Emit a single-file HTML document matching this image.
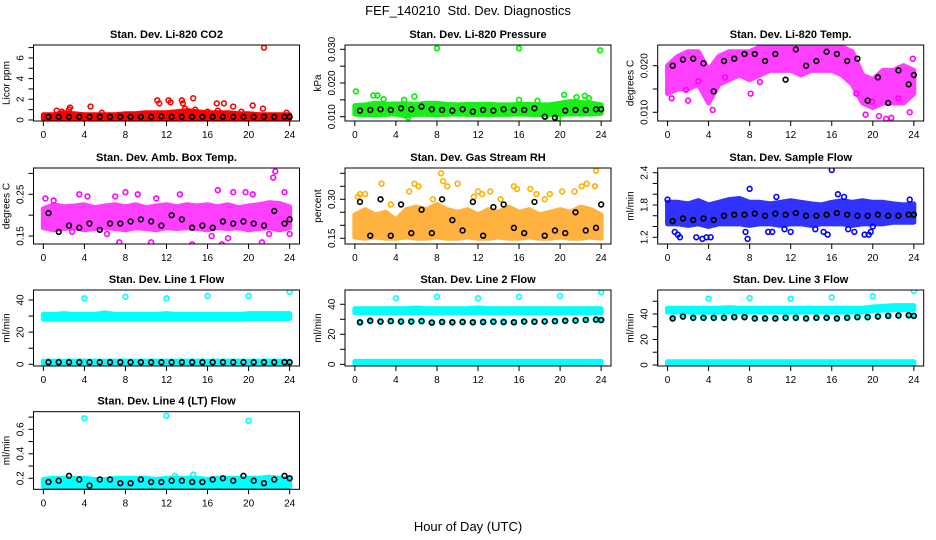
<!DOCTYPE html>
<html><head><meta charset="utf-8"><style>
body{margin:0;background:#fff}
svg{display:block;font-family:"Liberation Sans",sans-serif}
</style></head><body>
<svg id="c" width="936" height="540" viewBox="0 0 936 540">
<text x="468" y="15" font-size="13" text-anchor="middle" style="white-space:pre">FEF_140210  Std. Dev. Diagnostics</text>
<text x="468" y="531" font-size="13" text-anchor="middle">Hour of Day (UTC)</text>
</svg>
<script>
// shared hourly categories
const hours = [0,1,2,3,4,5,6,7,8,9,10,11,12,13,14,15,16,17,18,19,20,21,22,23,24];
const blackHours = [0.5,1.5,2.5,3.5,4.5,5.5,6.5,7.5,8.5,9.5,10.5,11.5,12.5,13.5,14.5,15.5,16.5,17.5,18.5,19.5,20.5,21.5,22.5,23.5,24];
const xTicks = [0,4,8,12,16,20,24];

// CO2
const co2Lo = [0.1,0.1,0.1,0.1,0.1,0.1,0.1,0.1,0.1,0.1,0.1,0.1,0.1,0.1,0.1,0.1,0.1,0.1,0.1,0.1,0.1,0.1,0.1,0.1,0.1];
const co2Hi = [0.5,0.5,0.7,0.6,0.5,0.5,0.5,0.5,0.6,0.6,0.7,0.7,0.7,0.8,0.9,0.8,0.7,0.7,0.7,0.6,0.6,0.5,0.5,0.5,0.5];
const co2OutT = [1.3,1.8,2.6,2.5,4.6,5.7,11.1,11.3,12.2,12.4,13.5,13.6,13.8,14.6,14.8,16.0,16.9,17.0,17.6,18.5,19.3,20.4,21.4,21.5,23.7];
const co2OutV = [0.9,0.8,1.2,1.0,1.3,0.7,1.9,1.6,1.9,1.7,1.9,1.6,1.1,2.1,1.0,0.8,1.6,0.9,1.6,1.3,0.8,1.4,1.1,7.0,0.7];
const co2Black = [0.3,0.3,0.3,0.3,0.3,0.3,0.3,0.3,0.3,0.3,0.3,0.35,0.3,0.3,0.3,0.3,0.3,0.3,0.3,0.3,0.3,0.3,0.3,0.3,0.3];
// Pressure
const prLo = [0.0108,0.0105,0.0106,0.0107,0.0108,0.0102,0.0107,0.0107,0.0106,0.0107,0.0108,0.0107,0.0106,0.0106,0.0107,0.0107,0.0108,0.0107,0.0106,0.0106,0.0107,0.0108,0.0108,0.0108,0.0110];
const prHi = [0.0133,0.0135,0.0140,0.0137,0.0138,0.0138,0.0137,0.0140,0.0140,0.0136,0.0135,0.0137,0.0136,0.0137,0.0135,0.0135,0.0136,0.0136,0.0135,0.0135,0.0140,0.0145,0.0142,0.0140,0.0135];
const prOutT = [0.1,8.0,16.0,23.9,2.2,1.8,2.8,5.8,4.8,16.0,17.8,20.4,21.6,22.4,22.8,18.6,19.8,5.2];
const prOutV = [0.0175,0.0303,0.0303,0.0297,0.0163,0.0163,0.0152,0.0160,0.0150,0.0150,0.0147,0.0165,0.0158,0.0162,0.0155,0.0100,0.0095,0.0098];
const prBlack = [0.0118,0.0120,0.0122,0.0120,0.0125,0.0122,0.0130,0.0122,0.0120,0.0118,0.0122,0.0115,0.0120,0.0118,0.0122,0.0120,0.0120,0.0125,0.0100,0.0097,0.0118,0.0120,0.0120,0.0122,0.0122];
// Li-820 temp
const tLo = [0.014,0.015,0.015,0.016,0.012,0.016,0.017,0.018,0.017,0.018,0.019,0.019,0.019,0.018,0.019,0.019,0.019,0.018,0.016,0.012,0.011,0.012,0.012,0.012,0.014];
const tHi = [0.020,0.022,0.023,0.023,0.019,0.022,0.023,0.023,0.023,0.024,0.024,0.024,0.024,0.024,0.024,0.024,0.024,0.024,0.023,0.018,0.017,0.019,0.019,0.020,0.019];
const tOutT = [0.4,2.0,4.4,8.1,18.4,19.3,19.9,20.6,21.3,21.8,23.6,23.9,3.0,9.0,5.6,1.8,22.5];
const tOutV = [0.013,0.0125,0.0105,0.014,0.014,0.0095,0.0123,0.0092,0.0086,0.0088,0.0100,0.0215,0.0167,0.0165,0.0175,0.0148,0.0130];
const tBlack = [0.0200,0.0213,0.0215,0.0205,0.0145,0.0210,0.0215,0.0225,0.0225,0.0210,0.0225,0.0170,0.0235,0.0200,0.0210,0.0230,0.0225,0.0210,0.0215,0.0125,0.0175,0.0120,0.0190,0.0160,0.0180];
// Amb box temp
const abLo = [0.170,0.165,0.168,0.170,0.165,0.168,0.170,0.168,0.165,0.170,0.168,0.165,0.170,0.168,0.170,0.168,0.165,0.170,0.168,0.170,0.165,0.168,0.170,0.165,0.170];
const abHi = [0.215,0.225,0.220,0.222,0.225,0.218,0.222,0.225,0.220,0.225,0.218,0.222,0.225,0.220,0.225,0.222,0.225,0.220,0.225,0.218,0.222,0.225,0.230,0.228,0.220];
const abOutT = [0.2,3.5,4.3,8.0,9.2,11.0,13.3,17.0,18.5,19.7,20.4,22.4,22.6,23.5,1.0,7.0,6.2,7.4,10.5,14.5,16.4,17.4,18.0,21.3,22.0,24,2.8];
const abOutV = [0.24,0.25,0.245,0.255,0.25,0.24,0.25,0.26,0.255,0.255,0.25,0.29,0.305,0.255,0.235,0.245,0.155,0.135,0.135,0.13,0.15,0.13,0.145,0.135,0.155,0.155,0.16];
const abBlack = [0.205,0.16,0.175,0.17,0.18,0.165,0.18,0.18,0.185,0.19,0.185,0.175,0.20,0.19,0.17,0.175,0.17,0.185,0.18,0.185,0.18,0.175,0.21,0.18,0.19];
// RH
const rhLo = [0.155,0.150,0.155,0.150,0.150,0.155,0.150,0.150,0.155,0.150,0.150,0.155,0.150,0.150,0.155,0.150,0.150,0.155,0.150,0.150,0.155,0.150,0.150,0.155,0.150];
const rhHi = [0.24,0.26,0.24,0.25,0.22,0.26,0.27,0.26,0.28,0.26,0.25,0.26,0.24,0.26,0.25,0.27,0.25,0.26,0.24,0.25,0.26,0.25,0.27,0.26,0.24];
const rhOutT = [0.3,0.5,1.0,2.6,5.3,5.8,6.2,7.6,8.6,9.0,10.0,11.6,12.4,13.2,15.5,15.8,17.1,17.7,19.0,21.4,22.1,22.6,23.4,23.5,8.4,12.0,20.2,3.5,14.2,18.5];
const rhOutV = [0.31,0.32,0.32,0.36,0.33,0.36,0.35,0.30,0.37,0.35,0.36,0.31,0.32,0.33,0.35,0.34,0.34,0.32,0.32,0.33,0.35,0.36,0.35,0.41,0.40,0.33,0.33,0.28,0.30,0.30];
const rhBlack = [0.29,0.16,0.30,0.16,0.28,0.17,0.26,0.17,0.30,0.22,0.18,0.29,0.16,0.27,0.28,0.19,0.17,0.29,0.16,0.18,0.17,0.25,0.18,0.19,0.28];
// Sample flow
const sfLo = [1.45,1.45,1.42,1.45,1.40,1.45,1.45,1.45,1.42,1.45,1.45,1.42,1.45,1.45,1.42,1.45,1.45,1.45,1.42,1.45,1.45,1.45,1.48,1.48,1.48];
const sfHi = [1.85,1.85,1.82,1.88,1.80,1.85,1.90,1.92,1.85,1.85,1.82,1.85,1.88,1.85,1.82,1.80,1.85,1.88,1.85,1.88,1.85,1.85,1.82,1.80,1.82];
const sfOutT = [0.7,1.0,1.2,3.4,3.8,4.2,2.8,7.6,7.8,9.8,10.2,11.4,12.0,14.4,15.2,15.6,17.6,18.2,19.2,19.6,19.8,20.0,8.0,16.0,10.6,16.6,17.2,0.0,23.6];
const sfOutV = [1.3,1.25,1.2,1.17,1.2,1.2,1.2,1.3,1.17,1.3,1.3,1.35,1.3,1.35,1.3,1.25,1.35,1.3,1.25,1.25,1.3,1.4,2.1,2.45,1.95,2.0,1.95,1.9,1.9];
const sfBlack = [1.5,1.55,1.52,1.55,1.52,1.6,1.62,1.62,1.64,1.6,1.64,1.62,1.65,1.6,1.6,1.62,1.65,1.62,1.6,1.6,1.62,1.6,1.6,1.62,1.62];
// Line 1
const l1Lo = [28,28,28,28,28,28,28,28,28,28,28,28,28,28,28,28,28,28,28,28,28.5,28.5,28.5,28.5,28.5];
const l1Hi = [31,31,31.5,31,31,31,32,31,31,31,31,31,31.5,31,31,31,31,31,31,31,31.5,31.5,31.5,31.5,31.5];
const l1Lo2 = [0.3,0.3,0.3,0.3,0.3,0.3,0.3,0.3,0.3,0.3,0.3,0.3,0.3,0.3,0.3,0.3,0.3,0.3,0.3,0.3,0.3,0.3,0.3,0.3,0.3];
const l1Hi2 = [2,2,2,2,2,2,2,2,2,2,2,2,2,2,2,2,2,2,2,2,2,2,2,2,2];
const l1OutT = [4,8,12,16,20,24];
const l1OutV = [41,42,41,42.5,42.5,45];
const l1Black = [1.3,1.3,1.3,1.3,1.3,1.3,1.3,1.3,1.3,1.3,1.3,1.3,1.3,1.3,1.3,1.3,1.3,1.3,1.3,1.3,1.3,1.3,1.3,1.3,1.3];
// Line 2
const l2Lo = [34.5,34.5,34.5,34.5,34.5,34.5,34.5,34.5,34.5,34.5,34.5,34.5,34.5,34.5,34.5,34.5,34.5,34.5,34.5,34.5,34.5,34.5,34.5,34.5,34.5];
const l2Hi = [37,37,37,37,37,37,37.5,37,37,37,37,37,37.5,37,37,37,37,37,37,37,37,37,37,37,37];
const l2Lo2 = [0.2,0.2,0.2,0.2,0.2,0.2,0.2,0.2,0.2,0.2,0.2,0.2,0.2,0.2,0.2,0.2,0.2,0.2,0.2,0.2,0.2,0.2,0.2,0.2,0.2];
const l2Hi2 = [2,2,2,2,2,2,2,2,2,2,2,2,2,2,2,2,2,2,2,2,2,2,2,2,2];
const l2OutT = [4,8,12,16,20,24];
const l2OutV = [44,45,44,45,45.5,48];
const l2Black = [28,29,28.5,28.8,28.5,28.5,28.8,27.8,28.2,28,28.2,28,28.2,28.4,28.2,28,28.5,28.4,28.6,28.8,29,29.2,29.6,29.8,29.5];
// Line 3
const l3Lo = [41.5,41.5,41.5,41.5,41.5,41.5,41.5,41.5,41.5,41.5,41.5,41.5,41.5,41.5,41.5,41.5,41.5,41.5,41.5,41.5,42.5,43,43.5,43.5,43.5];
const l3Hi = [44.5,44.5,44.5,44.5,44.5,44.5,45,44.5,44.5,44.5,44.5,44.5,44.5,44.5,44.5,44.5,44.5,44.5,44.5,44.5,45.5,46,46.5,46.5,46.5];
const l3Lo2 = [0.2,0.2,0.2,0.2,0.2,0.2,0.2,0.2,0.2,0.2,0.2,0.2,0.2,0.2,0.2,0.2,0.2,0.2,0.2,0.2,0.2,0.2,0.2,0.2,0.2];
const l3Hi2 = [2.5,2.5,2.5,2.5,2.5,2.5,2.5,2.5,2.5,2.5,2.5,2.5,2.5,2.5,2.5,2.5,2.5,2.5,2.5,2.5,2.5,2.5,2.5,2.5,2.5];
const l3OutT = [4,8,12,16,20,24];
const l3OutV = [52,52.5,52,53,54,58];
const l3Black = [36.5,38,37,37,37,37,37.5,37.5,36.5,36.5,36.5,37,37,36.5,37,37,36.5,37,37.5,37.5,38,38.5,38.8,39,38.5];
// Line 4
const l4Lo = [0.13,0.13,0.13,0.13,0.13,0.13,0.13,0.13,0.13,0.13,0.13,0.13,0.13,0.13,0.13,0.13,0.13,0.13,0.13,0.13,0.13,0.13,0.13,0.13,0.13];
const l4Hi = [0.19,0.2,0.2,0.2,0.2,0.19,0.19,0.2,0.2,0.2,0.2,0.19,0.2,0.2,0.2,0.2,0.19,0.2,0.2,0.2,0.2,0.2,0.21,0.2,0.2];
const l4OutT = [4,12,20,14.6,12.8];
const l4OutV = [0.69,0.71,0.67,0.23,0.22];
const l4Black = [0.17,0.18,0.22,0.19,0.14,0.19,0.19,0.16,0.16,0.19,0.17,0.17,0.18,0.18,0.17,0.17,0.19,0.20,0.18,0.22,0.18,0.16,0.19,0.22,0.20];

const NS = 'http://www.w3.org/2000/svg';
const svg = document.getElementById('c');
const colL = [33.5, 345, 657.7], W = 266;
const rowT = [45, 168, 290, 411.7], H = 76;

const panels = [
 {name:'co2',title:'Stan. Dev. Li-820 CO2',ylab:'Licor ppm',c:0,r:0,y0:-0.1,y1:7.25,ticks:[0,1,2,3,4,5,6,7],labels:[0,2,4,6],fmt:0,col:'#ff0000',op:1,bands:[[co2Lo,co2Hi]],outT:co2OutT,outV:co2OutV,black:co2Black},
 {name:'pressure',title:'Stan. Dev. Li-820 Pressure',ylab:'kPa',c:1,r:0,y0:0.00872,y1:0.03128,ticks:[0.010,0.015,0.020,0.025,0.030],labels:[0.010,0.020,0.030],fmt:3,col:'#00ee00',op:0.9,bands:[[prLo,prHi]],outT:prOutT,outV:prOutV,black:prBlack},
 {name:'li820-temp',title:'Stan. Dev. Li-820 Temp.',ylab:'degrees C',c:2,r:0,y0:0.00813,y1:0.02444,ticks:[0.010,0.015,0.020],labels:[0.010,0.020],fmt:3,col:'#ff00ff',op:0.75,bands:[[tLo,tHi]],outT:tOutT,outV:tOutV,black:tBlack},
 {name:'amb-box-temp',title:'Stan. Dev. Amb. Box Temp.',ylab:'degrees C',c:0,r:1,y0:0.131,y1:0.313,ticks:[0.15,0.20,0.25,0.30],labels:[0.15,0.25],fmt:2,col:'#ff00ff',op:0.75,bands:[[abLo,abHi]],outT:abOutT,outV:abOutV,black:abBlack},
 {name:'gas-stream-rh',title:'Stan. Dev. Gas Stream RH',ylab:'percent',c:1,r:1,y0:0.128,y1:0.4204,ticks:[0.15,0.20,0.25,0.30,0.35,0.40],labels:[0.15,0.30],fmt:2,col:'#ff9900',op:0.75,bands:[[rhLo,rhHi]],outT:rhOutT,outV:rhOutV,black:rhBlack,outCol:'#ffb000'},
 {name:'sample-flow',title:'Stan. Dev. Sample Flow',ylab:'ml/min',c:2,r:1,y0:1.075,y1:2.487,ticks:[1.2,1.4,1.6,1.8,2.0,2.2,2.4],labels:[1.2,1.8,2.4],fmt:1,col:'#0000ff',op:0.8,bands:[[sfLo,sfHi]],outT:sfOutT,outV:sfOutV,black:sfBlack},
 {name:'line1-flow',title:'Stan. Dev. Line 1 Flow',ylab:'ml/min',c:0,r:2,y0:-1.06,y1:46.2,ticks:[0,10,20,30,40],labels:[0,20,40],fmt:0,col:'#00ffff',op:1,bands:[[l1Lo,l1Hi],[l1Lo2,l1Hi2]],outT:l1OutT,outV:l1OutV,black:l1Black},
 {name:'line2-flow',title:'Stan. Dev. Line 2 Flow',ylab:'ml/min',c:1,r:2,y0:-1.1,y1:49.5,ticks:[0,10,20,30,40],labels:[0,20,40],fmt:0,col:'#00ffff',op:1,bands:[[l2Lo,l2Hi],[l2Lo2,l2Hi2]],outT:l2OutT,outV:l2OutV,black:l2Black,under:true},
 {name:'line3-flow',title:'Stan. Dev. Line 3 Flow',ylab:'ml/min',c:2,r:2,y0:-0.8,y1:58.8,ticks:[0,10,20,30,40,50],labels:[0,20,40],fmt:0,col:'#00ffff',op:1,bands:[[l3Lo,l3Hi],[l3Lo2,l3Hi2]],outT:l3OutT,outV:l3OutV,black:l3Black,under:true},
 {name:'line4-flow',title:'Stan. Dev. Line 4 (LT) Flow',ylab:'ml/min',c:0,r:3,y0:0.110,y1:0.744,ticks:[0.2,0.3,0.4,0.5,0.6,0.7],labels:[0.2,0.4,0.6],fmt:1,col:'#00ffff',op:1,bands:[[l4Lo,l4Hi]],outT:l4OutT,outV:l4OutV,black:l4Black}
];

function mk(tag, attrs, parent){
  const e = document.createElementNS(NS, tag);
  for (const k in attrs) e.setAttribute(k, attrs[k]);
  (parent||svg).appendChild(e);
  return e;
}

panels.forEach(p => {
  const L = colL[p.c], T = rowT[p.r], h = p.r===3 ? 77.6 : H;
  const xs = t => L + (t + 0.96) / 25.92 * W;
  const ys = v => T + h - (v - p.y0) / (p.y1 - p.y0) * h;
  const g = mk('g', {});
  
  
  const clip = mk('clipPath', {id:'cl-'+p.name}, g);
  mk('rect', {x:L, y:T, width:W, height:h}, clip);
  const plot = mk('g', {'clip-path':'url(#cl-'+p.name+')'}, g);
  p.bands.forEach((b, bi) => {
    const lo = b[0], hi = b[1];
    let pts = [];
    hours.forEach((t,i) => pts.push(xs(t)+','+ys(hi[i])));
    for (let i = hours.length-1; i >= 0; i--) pts.push(xs(hours[i])+','+ys(lo[i]));
    const poly = mk('polygon', {points:pts.join(' '), fill:p.col, stroke:p.col, 'stroke-width':5, 'stroke-linejoin':'round', opacity:p.op}, plot);
    
    
  });
  if (p.under) {
    blackHours.forEach((t,i) => {
      const c = mk('circle', {cx:xs(t), cy:ys(p.black[i]), r:3.5, fill:p.col}, plot);
      
      
    });
  }
  p.outT.forEach((t,i) => {
    const c = mk('circle', {cx:xs(t), cy:ys(p.outV[i]), r:2.4, fill:'none', stroke:p.outCol||p.col, 'stroke-width':1.6}, plot);
    
    
  });
  blackHours.forEach((t,i) => {
    const c = mk('circle', {cx:xs(t), cy:ys(p.black[i]), r:2.4, fill:'none', stroke:'#000', 'stroke-width':1.6}, plot);
    
    
  });
  const box = mk('rect', {x:L, y:T, width:W, height:h, fill:'none', stroke:'#000', 'stroke-width':1}, g);
  
  
  const xa = mk('g', {}, g);
  
  
  mk('line', {x1:xs(0), x2:xs(24), y1:T+h, y2:T+h, stroke:'#000'}, xa);
  xTicks.forEach(t => {
    mk('line', {x1:xs(t), x2:xs(t), y1:T+h, y2:T+h+5, stroke:'#000'}, xa);
    const tx = mk('text', {x:xs(t), y:T+h+17, 'font-size':10, 'text-anchor':'middle'}, xa);
    tx.textContent = t;
  });
  const ya = mk('g', {}, g);
  
  
  const tk = p.ticks;
  mk('line', {x1:L, x2:L, y1:ys(tk[0]), y2:ys(tk[tk.length-1]), stroke:'#000'}, ya);
  tk.forEach(v => mk('line', {x1:L-5, x2:L, y1:ys(v), y2:ys(v), stroke:'#000'}, ya));
  p.labels.forEach(v => {
    const x = L - 10, y = ys(v);
    const tx = mk('text', {x:x, y:y, 'font-size':10, 'text-anchor':'middle', transform:'rotate(-90 '+x+' '+y+')'}, ya);
    tx.textContent = v.toFixed(p.fmt);
  });
  const yx = L - 24, yy = T + h/2;
  const yt = mk('text', {x:yx, y:yy, 'font-size':10, 'text-anchor':'middle', transform:'rotate(-90 '+yx+' '+yy+')'}, g);
  yt.textContent = p.ylab;
  
  
  const tt = mk('text', {x:L+W/2, y:T-7, 'font-size':11, 'font-weight':'bold', 'text-anchor':'middle'}, g);
  tt.textContent = p.title;
  
  
});
</script>
</body></html>
